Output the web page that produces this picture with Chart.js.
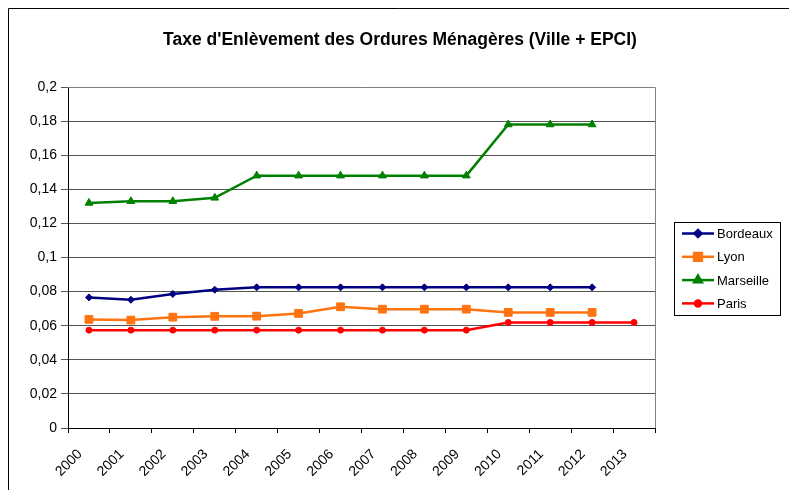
<!DOCTYPE html>
<html>
<head>
<meta charset="utf-8">
<script src="https://cdn.jsdelivr.net/npm/chart.js@4"></script>
<style>
  html, body { margin: 0; padding: 0; background: #fff; }
  #wrap { width: 789px; height: 490px; }
</style>
</head>
<body>
<div id="wrap"><canvas id="teomChart" width="789" height="490"></canvas></div>
<script>
const years = ['2000', '2001', '2002', '2003', '2004', '2005', '2006', '2007', '2008', '2009', '2010', '2011', '2012', '2013'];

const bordeaux = [0.0766, 0.0752, 0.0786, 0.0811, 0.0825, 0.0825, 0.0825, 0.0825, 0.0825, 0.0825, 0.0825, 0.0825, 0.0825, null];
const lyon = [0.0637, 0.0633, 0.0650, 0.0655, 0.0656, 0.0672, 0.0711, 0.0697, 0.0697, 0.0697, 0.0678, 0.0678, 0.0678, null];
const marseille = [0.132, 0.133, 0.133, 0.135, 0.148, 0.148, 0.148, 0.148, 0.148, 0.148, 0.178, 0.178, 0.178, null];
const paris = [0.0574, 0.0574, 0.0574, 0.0574, 0.0574, 0.0574, 0.0574, 0.0574, 0.0574, 0.0574, 0.0619, 0.0619, 0.0619, 0.0619];

const chartTitle = "Taxe d'Enlèvement des Ordures Ménagères (Ville + EPCI)";
const FONT = 'Arial, "Liberation Sans", sans-serif';

function series(label, data, color, style, radius, width) {
  return {
    label: label,
    data: data,
    borderColor: color,
    backgroundColor: color,
    borderWidth: width,
    pointStyle: style,
    pointRadius: radius,
    pointHoverRadius: radius,
    pointBorderWidth: 1,
    tension: 0,
    fill: false
  };
}

// title centred on the whole frame, plot border, outer frame and boxed legend
const excelFrame = {
  id: 'excelFrame',
  afterDraw(chart) {
    const ctx = chart.ctx;
    const a = chart.chartArea;
    ctx.save();
    ctx.strokeStyle = '#808080';
    ctx.lineWidth = 1;
    ctx.beginPath();
    ctx.moveTo(a.left, a.top + 0.5);
    ctx.lineTo(a.right + 0.5, a.top + 0.5);
    ctx.lineTo(a.right + 0.5, a.bottom);
    ctx.stroke();

    ctx.strokeStyle = '#000';
    ctx.beginPath();
    ctx.moveTo(8.5, 490);
    ctx.lineTo(8.5, 8.5);
    ctx.lineTo(789, 8.5);
    ctx.stroke();

    ctx.fillStyle = '#000';
    ctx.font = 'bold 17.5px ' + FONT;
    ctx.textAlign = 'center';
    ctx.textBaseline = 'middle';
    ctx.fillText(chartTitle, 400, 40);

    // legend
    const lx = 674, ly = 222, lw = 106, lh = 93;
    ctx.textAlign = 'left';
    ctx.strokeStyle = '#000';
    ctx.strokeRect(lx + 0.5, ly + 0.5, lw, lh);
    ctx.font = '13px ' + FONT;
    chart.data.datasets.forEach((ds, i) => {
      const y = ly + 11.5 + i * 23.3;
      ctx.strokeStyle = ds.borderColor;
      ctx.lineWidth = ds.borderWidth;
      ctx.beginPath();
      ctx.moveTo(lx + 8, y);
      ctx.lineTo(lx + 40, y);
      ctx.stroke();
      Chart.helpers.drawPoint(ctx, {
        pointStyle: ds.pointStyle,
        radius: ds.pointRadius,
        borderWidth: 1
      }, lx + 24, y);
      ctx.fillStyle = ds.borderColor;
      ctx.strokeStyle = ds.borderColor;
      ctx.lineWidth = 1;
      ctx.fill();
      ctx.stroke();
      ctx.fillStyle = '#000';
      ctx.fillText(ds.label, lx + 43, y + 1);
    });
    ctx.restore();
  }
};

const ctx = document.getElementById('teomChart').getContext('2d');
const teomChart = new Chart(ctx, {
  type: 'line',
  data: {
    labels: years,
    datasets: [
      series('Bordeaux', bordeaux, '#000080', 'rectRot', 3.5, 2.5),
      series('Lyon', lyon, '#FF7410', 'rect', 5.5, 2.5),
      series('Marseille', marseille, '#008000', 'triangle', 4.5, 2.5),
      series('Paris', paris, '#FF0000', 'circle', 3, 2.5)
    ]
  },
  options: {
    responsive: false,
    animation: false,
    devicePixelRatio: 1,
    layout: { padding: { left: 8, right: 134, top: 87, bottom: 0 } },
    plugins: {
      legend: { display: false },
      tooltip: { enabled: false },
      title: { display: false }
    },
    scales: {
      x: {
        type: 'category',
        offset: true,
        border: { color: '#000', width: 1 },
        grid: { offset: true, drawOnChartArea: false, drawTicks: true, tickLength: 5, color: '#000' },
        ticks: {
          color: '#000',
          font: { family: FONT, size: 14 },
          maxRotation: 45,
          minRotation: 45,
          autoSkip: false,
          padding: 13,
          labelOffset: -9
        },
        afterFit(scale) { scale.height = 62; }
      },
      y: {
        min: 0,
        max: 0.2,
        border: { color: '#000', width: 1 },
        grid: { color: '#555', tickLength: 7, drawTicks: true },
        ticks: {
          stepSize: 0.02,
          color: '#000',
          font: { family: FONT, size: 14 },
          padding: 4,
          callback: v => String(parseFloat(v.toFixed(2))).replace('.', ',')
        },
        afterFit(scale) { scale.width = 60; }
      }
    }
  },
  plugins: [excelFrame]
});
</script>
</body>
</html>
